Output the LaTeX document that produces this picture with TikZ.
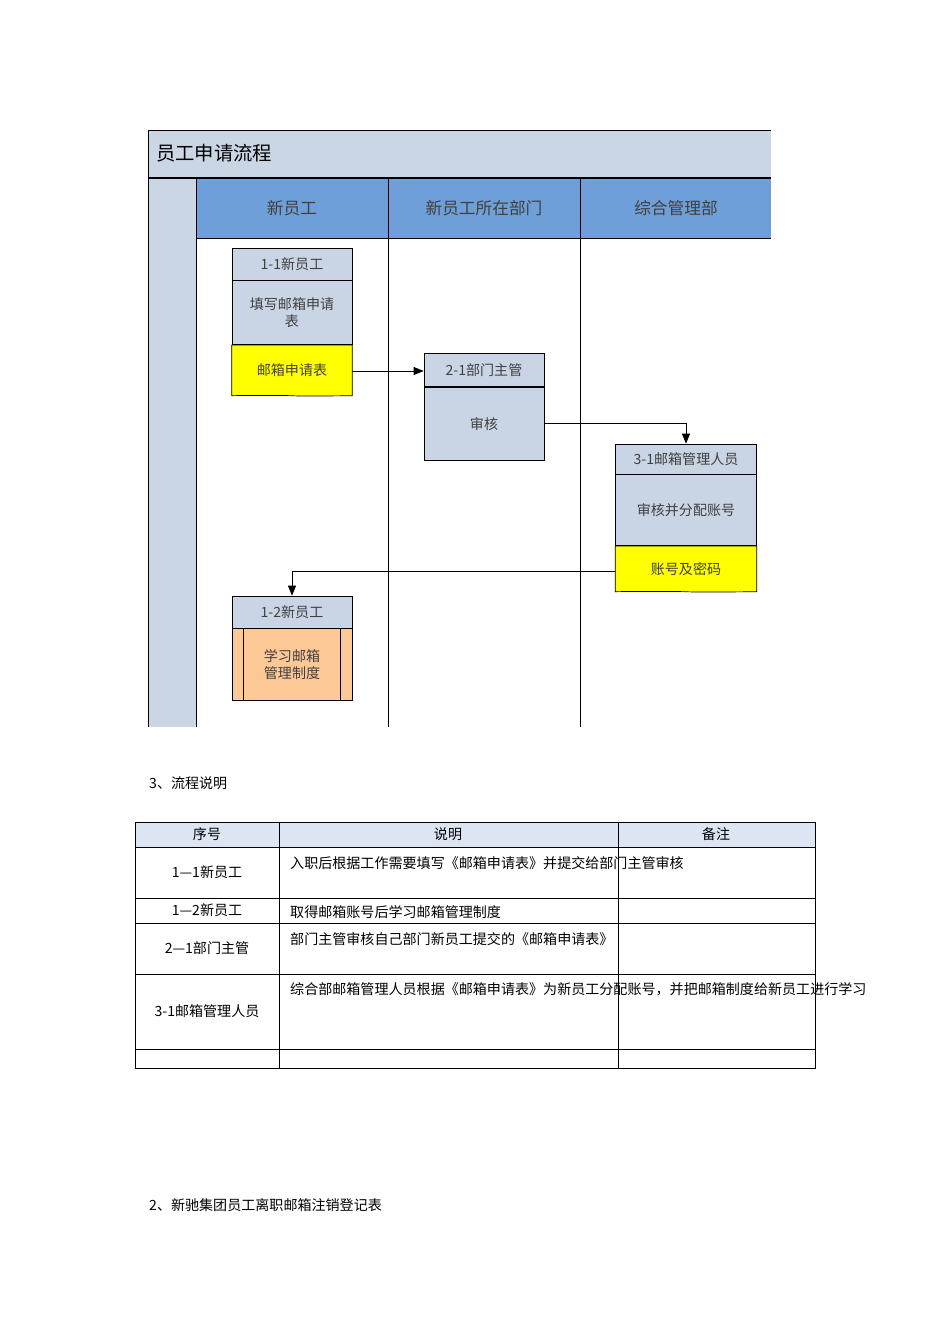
\documentclass[tikz,border=0pt]{standalone}
\usepackage{fontspec}
\setmainfont{Liberation Serif}
\newfontfamily\cjk{Noto Sans CJK SC}
\usetikzlibrary{arrows.meta,positioning}
\definecolor{titlebg}{HTML}{CBD6E5}
\definecolor{lanebg}{HTML}{6F9FD8}
\definecolor{boxbg}{HTML}{C9D4E4}
\definecolor{docyel}{HTML}{FFFF00}
\definecolor{procor}{HTML}{FBC896}
\definecolor{thbg}{HTML}{DCE6F2}
\tikzset{
  txt/.style={font=\cjk\fontsize{8}{10}\selectfont, text=black!75},
  hd/.style={draw, fill=boxbg, minimum width=2.4cm, minimum height=0.64cm, inner sep=0pt, txt},
  bd/.style={draw, fill=boxbg, minimum width=2.4cm, inner sep=0pt, align=center, txt},
  arr/.style={-{Triangle[length=2mm,width=1.6mm]}, thin},
}
\newcommand{\wavydoc}[3]{% name, fill, text
  \fill[#2] (#1.north west) -- (#1.north east) -- (#1.south east)
    .. controls ($(#1.south east)!0.5!(#1.south)+(0,0.35)$) and ($(#1.south)+(0,0.3)$) .. (#1.south)
    .. controls ($(#1.south)+(-0.6,-0.35)$) and ($(#1.south west)+(0.6,-0.3)$) .. (#1.south west) -- cycle;
  \draw (#1.north west) -- (#1.north east) -- (#1.south east)
    .. controls ($(#1.south east)!0.5!(#1.south)+(0,0.35)$) and ($(#1.south)+(0,0.3)$) .. (#1.south)
    .. controls ($(#1.south)+(-0.6,-0.35)$) and ($(#1.south west)+(0.6,-0.3)$) .. (#1.south west) -- cycle;
  \node[txt] at ($(#1.center)+(0,0.12)$) {#3};
}
\usetikzlibrary{calc}
\begin{document}
\begin{tikzpicture}[x=0.02cm, y=-0.02cm]
\useasboundingbox (0,0) rectangle (950,1344);

% Swimlane frame
\fill[titlebg] (148,130) rectangle (771,178);
\fill[titlebg] (148,178) rectangle (196,727);
\fill[lanebg] (196,178) rectangle (771,238);
\draw[thin] (771,130) -- (148,130) -- (148,727);
\draw[line width=1pt] (148,178) -- (771,178);
\draw[thin] (196,178) -- (196,727) (388,178) -- (388,727) (580,178) -- (580,727);
\draw[thin] (196,238) -- (771,238);
\node[font=\cjk\fontsize{11}{13}\selectfont, anchor=west] (title) at (150,153) {员工申请流程};
\node[font=\cjk\fontsize{9.5}{12}\selectfont, text=black!75] (lane1) at (292,208) {新员工};
\node[font=\cjk\fontsize{9.5}{12}\selectfont, text=black!75] (lane2) at (484,208) {新员工所在部门};
\node[font=\cjk\fontsize{9.5}{12}\selectfont, text=black!75] (lane3) at (676,208) {综合管理部};

% 1-1
\node[hd] (h11) at (292,264) {1-1新员工};
\node[bd, minimum height=1.28cm, below=0pt of h11] (b11) {填写邮箱申请\\表};
\node[minimum width=2.4cm, minimum height=1cm, inner sep=0pt, below=0pt of b11] (d11) {};
\wavydoc{d11}{docyel}{邮箱申请表}

% 2-1
\node[hd, minimum height=0.66cm] (h21) at (484,370) {2-1部门主管};
\node[bd, minimum height=1.46cm, below=0pt of h21] (b21) {审核};

% 3-1
\node[hd, minimum width=2.82cm, minimum height=0.6cm] (h31) at (686,459) {3-1邮箱管理人员};
\node[bd, minimum width=2.82cm, minimum height=1.42cm, below=0pt of h31] (b31) {审核并分配账号};
\node[minimum width=2.82cm, minimum height=0.9cm, inner sep=0pt, below=0pt of b31] (d31) {};
\wavydoc{d31}{docyel}{账号及密码}

% 1-2
\node[hd] (h12) at (292,612) {1-2新员工};
\node[bd, fill=procor, minimum height=1.44cm, below=0pt of h12] (b12) {学习邮箱\\管理制度};
\draw ([xshift=0.24cm]b12.north west) -- ([xshift=0.24cm]b12.south west);
\draw ([xshift=-0.24cm]b12.north east) -- ([xshift=-0.24cm]b12.south east);

% Arrows
\draw[arr] (d11.east |- 0,371) -- (b21.west |- 0,371);
\draw[arr] (b21.east) -| (h31.north);
\draw[arr] (d31.west |- 0,571) -| (h12.north);

% Table
\node[txt, anchor=west, text=black] (cap) at (143,783) {3、流程说明};
\fill[thbg] (135,822) rectangle (815,847);
\draw[thin] (135,822) rectangle (815,1068);
\foreach \yy in {847,898,923,974,1049} \draw[thin] (135,\yy) -- (815,\yy);
\foreach \xx in {279,618} \draw[thin] (\xx,822) -- (\xx,1068);
\tikzset{cell/.style={txt, text=black, align=left, anchor=north west, text width=6.5cm, font=\cjk\fontsize{8}{12.5}\selectfont}}
\node[txt, text=black] (t0a) at (207,834) {序号};
\node[txt, text=black] (t0b) at (448,834) {说明};
\node[txt, text=black] (t0c) at (716,834) {备注};
\node[txt, text=black] (t1a) at (207,872) {1—1新员工};
\node[cell] (t1b) at (284,850) {入职后根据工作需要填写《邮箱申请表》并提交给部门主管审核};
\node[txt, text=black] (t2a) at (207,910) {1—2新员工};
\node[cell] (t2b) at (284,899) {取得邮箱账号后学习邮箱管理制度};
\node[txt, text=black] (t3a) at (207,948) {2—1部门主管};
\node[cell] (t3b) at (284,926) {部门主管审核自己部门新员工提交的《邮箱申请表》};
\node[txt, text=black] (t4a) at (207,1011) {3-1邮箱管理人员};
\node[cell] (t4b) at (284,976) {综合部邮箱管理人员根据《邮箱申请表》为新员工分配账号，并把邮箱制度给新员工进行学习};

\node[txt, anchor=west, text=black] (next) at (143,1205) {2、新驰集团员工离职邮箱注销登记表};
\end{tikzpicture}
\end{document}
